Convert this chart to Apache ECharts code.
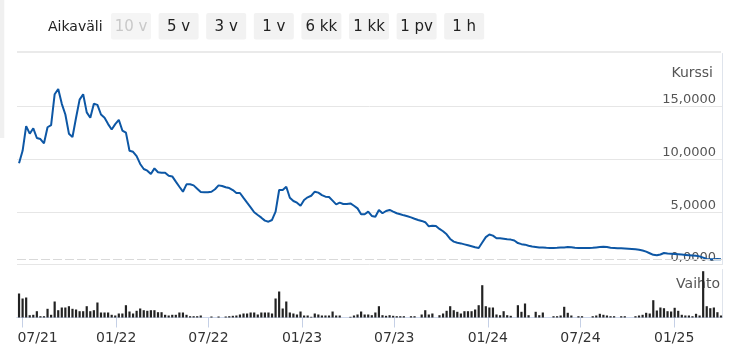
<!DOCTYPE html>
<html><head><meta charset="utf-8">
<script src="https://cdn.jsdelivr.net/npm/echarts@6/dist/echarts.min.js"></script>
<style>html,body{margin:0;padding:0;background:#fff}#c{width:730px;height:355px}</style>
</head><body><div id="c"></div>
<script>
// Weekly data, first week dated:
const firstWeek = '2021-06-24';
// Kurssi (EUR), weekly close
const price = [
9.59,10.78,13.11,12.40,12.91,11.99,11.89,11.49,13.01,13.21,
16.14,16.64,15.23,14.22,12.40,12.09,13.91,15.63,16.14,14.42,
13.91,15.23,15.13,14.22,13.91,13.31,12.80,13.31,13.71,12.70,
12.50,10.78,10.68,10.27,9.53,9.05,8.89,8.57,9.11,8.74,
8.70,8.70,8.41,8.35,7.85,7.37,6.90,7.60,7.60,7.50,
7.19,6.88,6.84,6.84,6.90,7.13,7.50,7.44,7.32,7.25,
7.06,6.78,6.78,6.31,5.86,5.42,4.95,4.69,4.44,4.16,
4.06,4.22,5.01,7.06,7.06,7.37,6.33,6.02,5.86,5.57,
6.12,6.37,6.52,6.90,6.81,6.58,6.43,6.40,6.05,5.70,
5.86,5.73,5.73,5.79,5.57,5.32,4.76,4.76,5.01,4.60,
4.53,5.17,4.86,5.07,5.17,5.01,4.86,4.76,4.66,4.57,
4.47,4.34,4.22,4.13,4.01,3.62,3.68,3.65,3.37,3.15,
2.86,2.42,2.17,2.06,2.00,1.91,1.82,1.73,1.63,1.57,
2.08,2.59,2.84,2.74,2.49,2.49,2.44,2.39,2.36,2.27,
2.03,1.93,1.88,1.78,1.71,1.66,1.61,1.60,1.58,1.57,
1.57,1.58,1.60,1.62,1.65,1.63,1.58,1.57,1.57,1.57,
1.57,1.59,1.62,1.65,1.68,1.66,1.59,1.57,1.55,1.54,
1.52,1.50,1.48,1.45,1.40,1.33,1.22,1.07,0.92,0.87,
0.95,1.09,1.04,1.02,1.00,0.97,0.94,0.91,0.88,0.85,
0.82,0.77,0.65,0.52,0.49,0.49,0.52,0.49
];
// Vaihto (thousand shares), weekly
const volume = [
24,19,20,2.3,2.7,6.3,1.3,1.3,8.7,2.7,
16,7.3,10,10,11.3,8.7,8,6.3,6.3,11.3,
6.3,7.3,15,5,5,5,2.7,2,4,4,
12.3,6,4,6.7,9,7.3,6.7,7.3,7.3,5.3,
5.3,2.7,2,2.7,2.7,5,5,2.7,1.3,
1.3,1.3,2,0,0,1,0,1,0,1,
1.3,1.7,2,3,4,4,5,5,3,5,
5,5,4,19,26,9,16,5,4,3,
6,2,2,0.7,4,3,2,2,2,6,
2,2,0,0,0.7,2,3,6,3,3,
2.3,5,11.3,2.3,1.7,2.3,1.7,1.3,1.3,1.3,
0,1.3,1.3,0,3,7.3,3,4,0,2.3,
4,6.7,11.3,7.3,5.7,4,6.3,6.3,6.3,8,
12.3,32.3,11.3,10,10,3,2.3,6.3,2.3,1.7,
0,12.3,5.7,14,2.3,0,5.7,2.3,5,
0,0,1.3,1.3,2,10.7,4.7,2,0,1.3,
1.3,0,0,1.3,2,3.7,2.7,2,1.3,1.3,
0,1.3,1.3,0,0,1.3,2,2.7,4.7,4,
17.3,7,10,9.3,6.3,6,9.7,6.7,2.7,2,
2,1.3,3.7,2,46.3,11.3,9.3,10,5.3,2
];
const tickDates = ['2021-07-01','2022-01-01','2022-07-01','2023-01-01','2023-07-01','2024-01-01','2024-07-01','2025-01-01'];
const rangeButtons = ['10 v','5 v','3 v','1 v','6 kk','1 kk','1 pv','1 h'];
const rangeLabel = 'Aikaväli';
const priceName = 'Kurssi';
const volumeName = 'Vaihto';

const DAY = 864e5;
const w0 = new Date(firstWeek).getTime();
const dates = price.map((_, i) => w0 + i * 7 * DAY);
const priceData = price.map((v, i) => [dates[i], v]);
const volData = volume.map((v, i) => [dates[i], v]);

// visible date range of the x axes
const rangeStart = '2021-06-20';
const rangeEnd = '2025-04-05';
const xMin = new Date(rangeStart).getTime();
const xMax = new Date(rangeEnd).getTime();
// daily calendar used by the tick/label axis
const days = [];
for (let t = xMin; t <= xMax; t += DAY) days.push(new Date(t).toISOString().slice(0, 10));
const tickSet = new Set(tickDates);

const FONT = '"DejaVu Sans", sans-serif';
function fmtDate(s) { return s.slice(5, 7) + '/' + s.slice(2, 4); }

const graphics = [
  { type: 'rect', shape: { x: 0, y: 0, width: 4.3, height: 138 }, style: { fill: '#f0f0f0' }, silent: true },
  { type: 'text', style: { x: 48, y: 27, text: rangeLabel, font: '14px ' + FONT, fill: '#222', verticalAlign: 'middle', align: 'left' } },
  { type: 'line', shape: { x1: 17, y1: 52, x2: 721, y2: 52 }, style: { stroke: '#eaeaea', lineWidth: 2 }, silent: true },
  { type: 'text', z: 0, style: { x: 713, y: 73, text: priceName, font: '14px ' + FONT, fill: '#555', align: 'right', verticalAlign: 'middle' } },
  { type: 'text', z: 0, style: { x: 720, y: 284.5, text: volumeName, font: '14px ' + FONT, fill: '#555', align: 'right', verticalAlign: 'middle' } }
];
rangeButtons.forEach((b, i) => {
  const x = 111 + i * 47.6;
  graphics.push({ type: 'rect', shape: { x: x, y: 13, width: 40, height: 26.5, r: 2 }, style: { fill: i === 0 ? '#f5f5f5' : '#f2f2f2' } });
  graphics.push({ type: 'text', style: { x: x + 20, y: 27, text: b, font: '15px ' + FONT, fill: i === 0 ? '#c9c9c9' : '#222', align: 'center', verticalAlign: 'middle' } });
});

const chart = echarts.init(document.getElementById('c'), null, { renderer: 'canvas' });
chart.setOption({
  animation: false,
  backgroundColor: '#fff',
  graphic: graphics,
  grid: [
    { left: 17, right: 8, top: 53.5, bottom: 90.5 },
    { left: 17, right: 8, top: 269.5, bottom: 37.5 }
  ],
  xAxis: [
    { type: 'value', gridIndex: 0, min: xMin, max: xMax, show: false, splitLine: { show: false } },
    { type: 'value', gridIndex: 1, min: xMin, max: xMax, position: 'bottom',
      axisLine: { show: true, lineStyle: { color: '#ccd6eb', width: 1 } },
      axisTick: { show: false }, axisLabel: { show: false }, splitLine: { show: false } },
    { type: 'category', gridIndex: 1, data: days, boundaryGap: false, position: 'bottom',
      axisLine: { show: true, lineStyle: { color: '#ccd6eb', width: 1 } },
      axisTick: { show: true, length: 10, interval: (i, v) => tickSet.has(v), lineStyle: { color: '#c5d0e6', width: 1 } },
      axisLabel: { interval: (i, v) => tickSet.has(v), margin: 14, fontFamily: FONT, fontSize: 14, color: '#333',
        formatter: function (v) {
          const s = fmtDate(v);
          return v === tickDates[0] ? '{first|' + s + '}' : s;
        },
        rich: { first: { padding: [0, 0, 0, 30], fontFamily: FONT, fontSize: 14, color: '#333' } }
      },
      splitLine: { show: false }
    }
  ],
  yAxis: [
    { type: 'value', gridIndex: 0, position: 'right', min: 0, max: 20, interval: 5,
      axisLine: { show: true, lineStyle: { color: '#dfe4ec' } },
      axisTick: { show: false },
      axisLabel: { inside: true, margin: 6, verticalAlign: 'bottom', showMaxLabel: false,
        color: '#555', fontFamily: FONT, fontSize: 13,
        formatter: v => v.toFixed(4).replace('.', ',') },
      splitLine: { show: true, showMaxLine: false, lineStyle: { color: '#e6e6e6', width: 1 } }
    },
    { type: 'value', gridIndex: 1, position: 'right', min: 0, max: 48,
      axisLine: { show: true, lineStyle: { color: '#dfe4ec' } },
      axisTick: { show: false }, axisLabel: { show: false }, splitLine: { show: false }
    }
  ],
  series: [
    { type: 'line', name: priceName, xAxisIndex: 0, yAxisIndex: 0, data: priceData,
      showSymbol: false, symbol: 'none', z: 3,
      lineStyle: { color: '#0d57a5', width: 2 },
      markLine: { silent: true, symbol: ['none', 'none'], label: { show: false },
        lineStyle: { type: [9, 3], color: '#d9d9d9', width: 1 },
        data: [{ yAxis: price[price.length - 1] }] }
    },
    { type: 'bar', name: volumeName, xAxisIndex: 1, yAxisIndex: 1, data: volData,
      barWidth: 2.2, z: 3, itemStyle: { color: '#222' } }
  ]
});
</script>
</body></html>
